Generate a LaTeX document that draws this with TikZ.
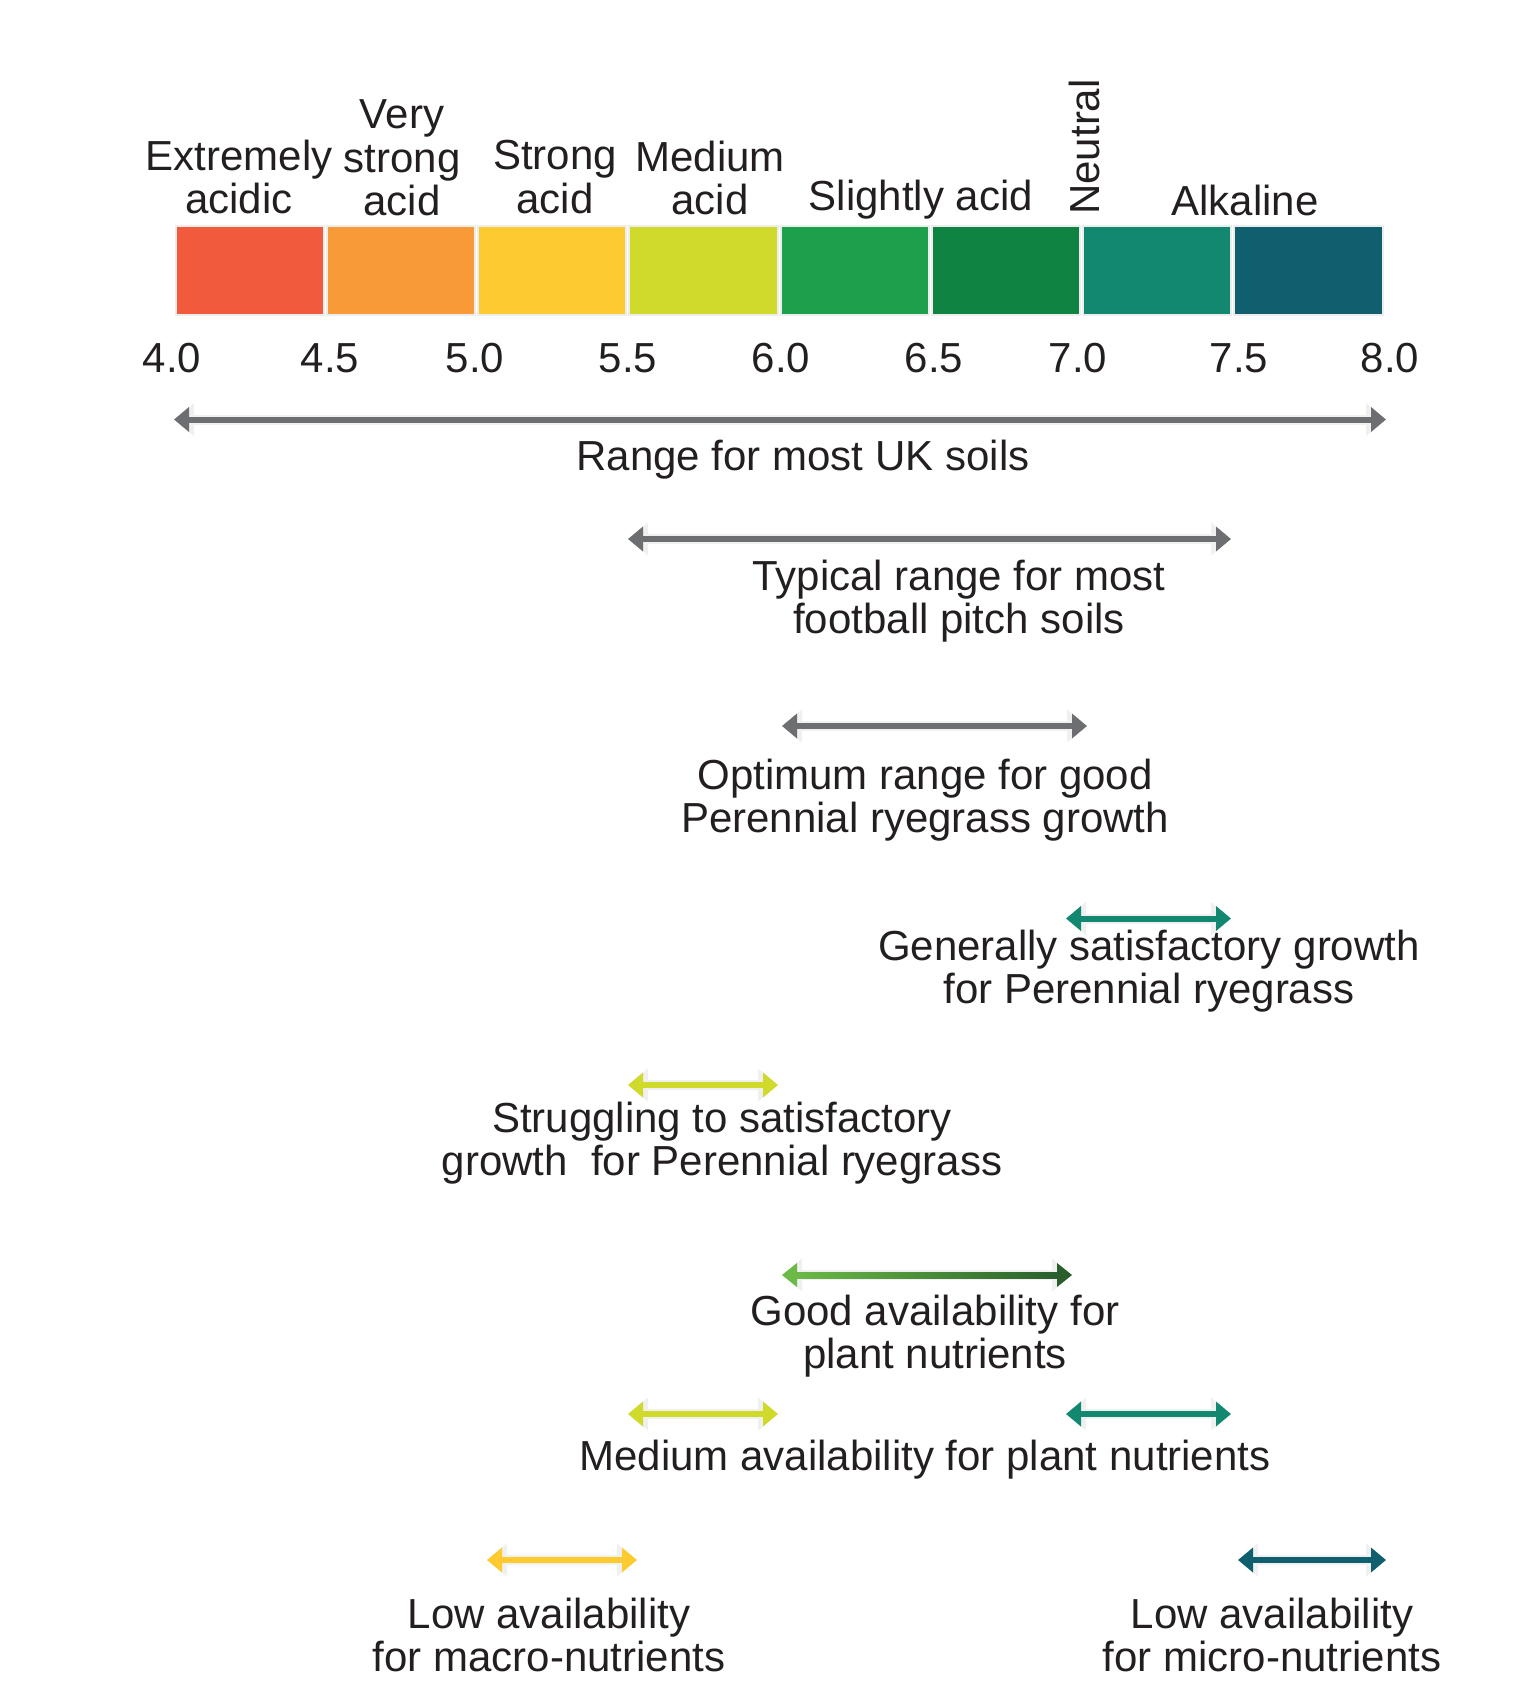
\documentclass[tikz,border=0pt]{standalone}
\usepackage{fontspec}
\setmainfont{Liberation Sans}
\usetikzlibrary{arrows.meta,calc}

\definecolor{txt}{HTML}{231F20}
\definecolor{phA}{HTML}{F15A3B}
\definecolor{phB}{HTML}{F89A38}
\definecolor{phC}{HTML}{FDCB30}
\definecolor{phD}{HTML}{CFDA2B}
\definecolor{phE}{HTML}{1DA04B}
\definecolor{phF}{HTML}{0E8342}
\definecolor{phG}{HTML}{128870}
\definecolor{phH}{HTML}{0F5F6F}
\definecolor{arrgray}{HTML}{6D6E71}
\definecolor{goodL}{HTML}{6BBA47}
\definecolor{goodR}{HTML}{295E2C}

\tikzset{
    every node/.style={font=\fontsize{21}{21.8}\selectfont, text=txt, align=center, inner sep=0pt},
    seg/.style={draw=black!7, line width=1pt},
    halo/.style={draw=black!6, line width=5pt, {Triangle[length=10pt,width=16pt]}-{Triangle[length=10pt,width=16pt]}},
    rng/.style={line width=3pt, {Triangle[length=7.5pt,width=12pt]}-{Triangle[length=7.5pt,width=12pt]}}
}

\newcommand{\setup}{
    \coordinate (rngL) at (174,419.5);
    \coordinate (rngR) at (1386,419.5);
    \coordinate (typL) at (628,539);
    \coordinate (typR) at (1231,539);
    \coordinate (optL) at (782,726);
    \coordinate (optR) at (1087,726);
    \coordinate (genL) at (1066,918.5);
    \coordinate (genR) at (1231,918.5);
    \coordinate (strL) at (628,1085);
    \coordinate (strR) at (778,1085);
    \coordinate (goodA) at (782,1275);
    \coordinate (goodB) at (1072,1275);
    \coordinate (medL1) at (628,1414);
    \coordinate (medR1) at (778,1414);
    \coordinate (medL2) at (1066,1414);
    \coordinate (medR2) at (1231,1414);
    \coordinate (macL) at (487,1560);
    \coordinate (macR) at (637,1560);
    \coordinate (micL) at (1238,1560);
    \coordinate (micR) at (1386,1560);
}
\newcommand{\phArrow}[3]{
    \draw[halo] (#2) -- (#3);
    \draw[rng,#1] (#2) -- (#3);
}

\begin{document}
\begin{tikzpicture}[x=0.5pt,y=-0.5pt]
    \useasboundingbox (0,0) rectangle (1532,1708);
    \setup;

    % colour scale
    \foreach \i/\c in {0/phA,1/phB,2/phC,3/phD,4/phE,5/phF,6/phG,7/phH}
        \filldraw[seg,fill=\c] ({174+151.25*\i+1.5},226) rectangle ({174+151.25*(\i+1)-1.5},315);
    \foreach \i/\x/\v in {0/172/4.0,1/330/4.5,2/475/5.0,3/628/5.5,4/781/6.0,5/934/6.5,6/1078/7.0,7/1239/7.5,8/1390/8.0}
        \node (t\i) at (\x,358) {\v};

    \node (ext) at (239,177) {Extremely\\acidic};
    \node (vstr) at (402,158) {Very\\strong\\acid};
    \node (strg) at (555,177) {Strong\\acid};
    \node (medm) at (710,178) {Medium\\acid};
    \node (sli) at (921,200) {Slightly acid};
    \node[rotate=90] (neu) at (1084,147) {Neutral};
    \node (alk) at (1245,200) {Alkaline};

    % ranges
    \phArrow{arrgray}{rngL}{rngR};
    \node (range) at (803,460) {Range for most UK soils};

    \phArrow{arrgray}{typL}{typR};
    \node (typ) at (959,601) {Typical range for most\\football pitch soils};

    \phArrow{arrgray}{optL}{optR};
    \node (opt) at (925,800) {Optimum range for good\\Perennial ryegrass growth};

    \phArrow{phG}{genL}{genR};
    \node (gen) at (1149,971) {Generally satisfactory growth\\for Perennial ryegrass};

    \phArrow{phD}{strL}{strR};
    \node (strug) at (722,1143) {Struggling to satisfactory\\growth~ for Perennial ryegrass};

    \draw[halo] (goodA) -- (goodB);
    \shade[left color=goodL,right color=goodR] ($(goodA)+(12,-3)$) rectangle ($(goodB)+(-12,3)$);
    \fill[goodL] (goodA) -- ++(15,-12) -- ++(0,24) -- cycle;
    \fill[goodR] (goodB) -- ++(-15,-12) -- ++(0,24) -- cycle;
    \node (good) at (935,1336) {Good availability for\\plant nutrients};

    \phArrow{phD}{medL1}{medR1};
    \phArrow{phG}{medL2}{medR2};
    \node (medav) at (925,1460) {Medium availability for plant nutrients};

    \phArrow{phC}{macL}{macR};
    \node (lowmac) at (549,1635) {Low availability\\for macro-nutrients};

    \phArrow{phH}{micL}{micR};
    \node (lowmic) at (1272,1635) {Low availability\\for micro-nutrients};
\end{tikzpicture}
\end{document}
